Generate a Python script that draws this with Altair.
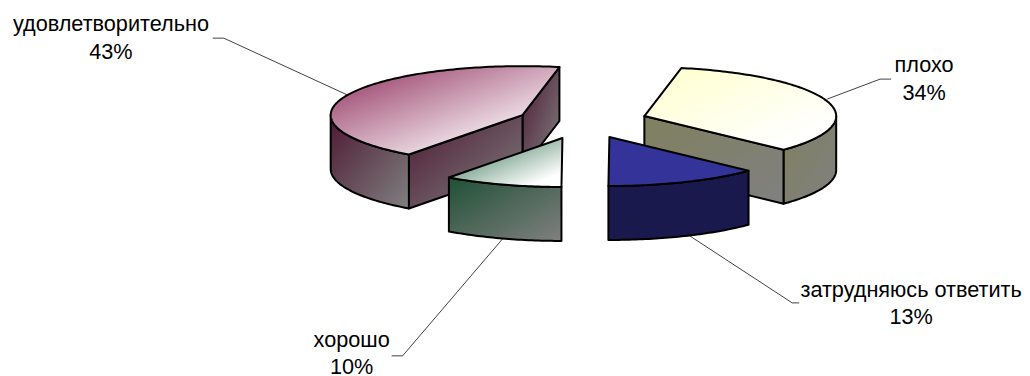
import math
import altair as alt

# ---- data ----
categories = ["плохо", "затрудняюсь ответить", "хорошо", "удовлетворительно"]
shares = [34, 13, 10, 43]

# ---- drawing style ----
M = 8            # page margin
W, H = 1014, 368
RX, RY, DEPTH = 192, 49, 54
START = 11.1     # first slice start, degrees clockwise from the back
APEX = [(644, 116), (609, 137), (562, 138), (522, 115)]
TOP = [("#FFFFCC", "#FFFFFF"), ("#333399", "#333399"), ("#246645", "#FFFFFF"), ("#8F2E5C", "#FFFFFF")]
SIDE = [("#808060", "#808080"), ("#19194D", "#19194D"), ("#1F5035", "#808080"), ("#4D1933", "#808080")]
LEADERS = [
    [(827, 99), (880, 79), (891, 79)],
    [(688, 235), (792, 303), (799, 303)],
    [(502, 239), (402, 356), (391, 356)],
    [(347, 95), (223, 38), (212, 38)],
]
LABEL_POS = [(924, 65), (911, 290), (351, 340), (110, 24)]
LINE_GAP = 27.5
FONT_SIZE = 21.7


def pt(apex, t, drop=0):
    r = math.radians(t)
    return (apex[0] + RX * math.sin(r) - M, apex[1] - RY * math.cos(r) + drop - M)


def arc(apex, t0, t1, drop=0):
    n = max(2, int(abs(t1 - t0)))
    return [pt(apex, t0 + (t1 - t0) * i / n, drop) for i in range(n + 1)]


def flat(apex, drop=0):
    return (apex[0] - M, apex[1] + drop - M)


def poly(points):
    pts = [list(p) for p in points]
    pts.append(pts[0])
    return {"type": "Feature", "properties": {}, "geometry": {"type": "Polygon", "coordinates": [pts]}}


def gradient(pair, end=1):
    return alt.Gradient(
        gradient="linear", x1=0, y1=0, x2=1, y2=1,
        stops=[alt.GradientStop(color=pair[0], offset=0),
               alt.GradientStop(color=pair[1], offset=end),
               alt.GradientStop(color=pair[1], offset=1)],
    )


PROJ = dict(type="identity")


def shape(feature, pair, end=1):
    return alt.Chart(alt.Data(values=[feature])).mark_geoshape(
        fill=gradient(pair, end), stroke="black", strokeWidth=2, strokeJoin="round"
    ).project(**PROJ)


# slice angular ranges from the shares
ranges = []
a = START
for s in shares:
    ranges.append((a, a + s * 3.6))
    a += s * 3.6

layers = []
# an invisible frame the size of the canvas keeps the projection 1:1 with pixels
layers.append(
    alt.Chart(alt.Data(values=[poly([(0, 0), (W, 0), (W, H), (0, H)])])).mark_geoshape(
        fill="transparent", strokeOpacity=0
    ).project(**PROJ)
)

# order: back slices first, exploded front slices last
for i in [3, 0, 2, 1]:
    t0, t1 = ranges[i]
    ap = APEX[i]
    walls = []
    # outer rim, only the part facing the viewer
    lo, hi = max(t0, 90), min(t1, 270)
    if lo < hi:
        walls.append(poly(arc(ap, lo, hi) + arc(ap, hi, lo, DEPTH)))
    # radial walls facing the viewer
    if i == 0:
        walls.append(poly([flat(ap), pt(ap, t1), pt(ap, t1, DEPTH), flat(ap, DEPTH)]))
    if i == 3:
        walls.append(poly([flat(ap), pt(ap, t1 % 360), pt(ap, t1 % 360, DEPTH), flat(ap, DEPTH)]))
        walls.append(poly([flat(ap), pt(ap, t0), pt(ap, t0, DEPTH), flat(ap, DEPTH)]))
    for w in walls:
        layers.append(shape(w, SIDE[i]))
    layers.append(shape(poly([flat(ap)] + arc(ap, t0, t1)), TOP[i], 0.85))

# leader lines
for line in LEADERS:
    feat = {"type": "Feature", "properties": {},
            "geometry": {"type": "LineString", "coordinates": [[x - M, y - M] for x, y in line]}}
    layers.append(
        alt.Chart(alt.Data(values=[feat])).mark_geoshape(
            filled=False, stroke="black", strokeWidth=0.75
        ).project(**PROJ)
    )

# labels
rows = []
for c, s, (x, y) in zip(categories, shares, LABEL_POS):
    rows.append({"t": c, "x": x - M, "y": y - M})
    rows.append({"t": f"{s}%", "x": x - M, "y": y - M + LINE_GAP})
labels = alt.Chart(alt.Data(values=rows)).mark_text(
    font="Liberation Sans", fontSize=FONT_SIZE, color="black", align="center", baseline="middle"
).encode(
    x=alt.X("x:Q", scale=None, axis=None),
    y=alt.Y("y:Q", scale=None, axis=None),
    text="t:N",
)
layers.append(labels)

chart = alt.layer(*layers).properties(
    width=W, height=H, padding=0, background="white"
).configure_view(stroke=None)

chart.save("out.html", embed_options={"renderer": "svg", "actions": False})
